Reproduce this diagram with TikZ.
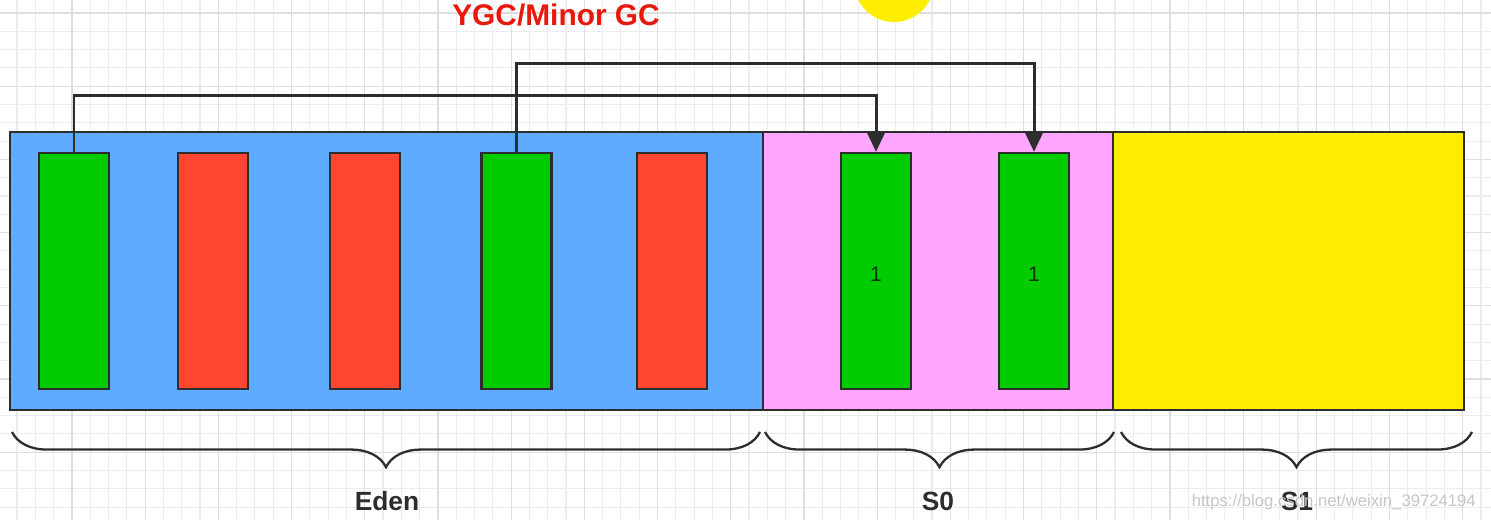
\documentclass[tikz,border=0pt]{standalone}
\usepackage{fontspec}
\setmainfont{Liberation Sans}
\usetikzlibrary{arrows.meta,decorations.pathreplacing}

\definecolor{edenblue}{RGB}{94,171,255}
\definecolor{survpink}{RGB}{255,166,255}
\definecolor{survyellow}{RGB}{255,238,0}
\definecolor{livegreen}{RGB}{0,204,0}
\definecolor{deadred}{RGB}{255,70,46}
\definecolor{titlered}{RGB}{232,24,12}
\definecolor{linegray}{RGB}{45,45,45}
\definecolor{gridminor}{RGB}{236,236,236}
\definecolor{gridmajor}{RGB}{222,222,222}

\tikzset{
  area/.style={draw=linegray, line width=1.6pt, minimum height=55.6mm, inner sep=0pt},
  obj/.style={draw=linegray, line width=1.4pt, minimum width=14mm, minimum height=47.2mm, inner sep=0pt},
  live/.style={obj, fill=livegreen},
  dead/.style={obj, fill=deadred},
  gcarrow/.style={draw=linegray, line width=1.7pt, -{Triangle[length=11pt,width=10pt]}},
  spanbrace/.style={draw=linegray, line width=1.3pt, decorate, decoration={brace, mirror, amplitude=20pt, aspect=0.5}},
  arealabel/.style={anchor=base, font=\fontsize{15}{18}\selectfont\bfseries, text=linegray},
  agelabel/.style={anchor=base, font=\fontsize{12}{14}\selectfont, text=black!75!livegreen}
}

\begin{document}
\begin{tikzpicture}[x=0.2mm, y=-0.2mm]
    \useasboundingbox (0,0) rectangle (1491,520);
    \fill[white] (0,0) rectangle (1491,520);
    \foreach \gx in {0,...,82}
        \draw[gridminor, line width=0.6pt] ({-1.3+18.3*\gx},0) -- ++(0,520);
    \foreach \gy in {0,...,28}
        \draw[gridminor, line width=0.6pt] (0,{13+18.3*\gy}) -- ++(1491,0);
    \foreach \gx in {0,...,21}
        \draw[gridmajor, line width=0.7pt] ({-1.2+73.2*\gx},0) -- ++(0,520);
    \foreach \gy in {0,...,7}
        \draw[gridmajor, line width=0.7pt] (0,{13+73.2*\gy}) -- ++(1491,0);

    \fill[survyellow] (894,-18) circle (40);

    \node[titlered, anchor=base, font=\fontsize{17}{20}\selectfont\bfseries] (ygc) at (556,25) {YGC/Minor GC};

    \node[area, fill=edenblue, minimum width=150.6mm] (eden) at (386.5,271) {};
    \node[area, fill=survpink, minimum width=70mm] (s0) at (938,271) {};
    \node[area, fill=survyellow, minimum width=70.2mm] (s1) at (1288.5,271) {};

    \node[live] (e1) at (74,271) {};
    \node[dead] (e2) at (213,271) {};
    \node[dead] (e3) at (365,271) {};
    \node[live] (e4) at (516.5,271) {};
    \node[dead] (e5) at (672,271) {};
    \node[live] (s0a) at (876,271) {};
    \node[live] (s0b) at (1034,271) {};
    \node[agelabel] (agea) at (876,281) {1};
    \node[agelabel] (ageb) at (1034,281) {1};

    \draw[gcarrow] (e1.north) -- ++(0,-56) -| (s0a.north);
    \draw[gcarrow] (e4.north) -- ++(0,-88) -| (s0b.north);

    \coordinate (edenL) at (12,432);
    \coordinate (edenR) at (760,432);
    \coordinate (s0L) at (765,432);
    \coordinate (s0R) at (1114,432);
    \coordinate (s1L) at (1121,432);
    \coordinate (s1R) at (1472,432);
    \draw[spanbrace] (edenL) -- (edenR);
    \draw[spanbrace] (s0L) -- (s0R);
    \draw[spanbrace] (s1L) -- (s1R);
    \node[arealabel] (edenlbl) at (387,510) {Eden};
    \node[arealabel] (s0lbl) at (938,510) {S0};
    \node[arealabel] (s1lbl) at (1297,510) {S1};

    \node[anchor=base east, text=gray!45, font=\fontsize{9.5}{11}\selectfont] (mark) at (1482,506) {https://blog.csdn.net/weixin\_39724194};
\end{tikzpicture}
\end{document}
